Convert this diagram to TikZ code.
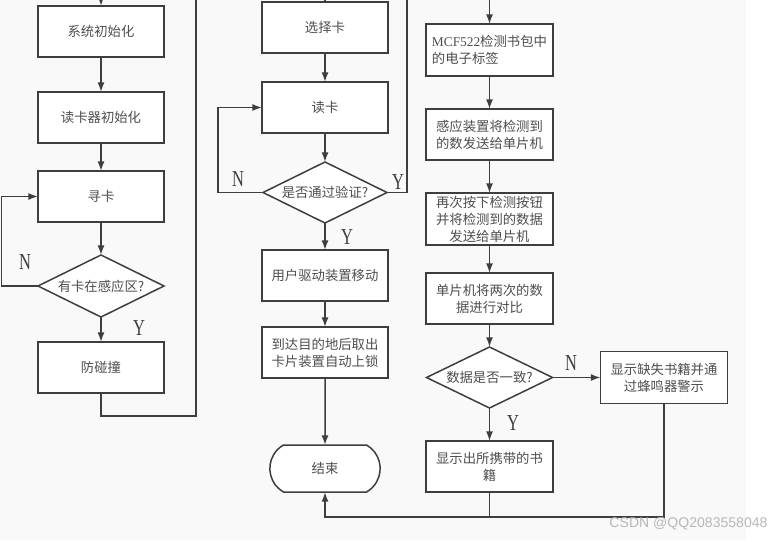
\documentclass[tikz,border=0pt]{standalone}
\usepackage{fontspec}
\setmainfont{Liberation Serif}
\setsansfont{Liberation Sans}
\newfontfamily\cjk{Noto Sans CJK SC}
\usetikzlibrary{shapes.geometric, shapes.misc, arrows.meta}
\usetikzlibrary{positioning}
\definecolor{bgcol}{RGB}{249,249,249}
\definecolor{linecol}{RGB}{62,62,62}
\definecolor{txtcol}{RGB}{78,78,78}
\tikzstyle{procbox} = [rectangle, minimum width=2.52cm, minimum height=1.02cm, inner ysep=0pt, outer sep=0pt,
text centered, align=center, draw=linecol, fill=white, text=txtcol, line width=0.85pt,
font=\cjk\fontsize{7.6}{9.7}\selectfont]
\tikzstyle{decision} = [diamond, aspect=2, minimum width=2.52cm, minimum height=1.24cm, inner sep=0pt, outer sep=0pt,
text centered, draw=linecol, fill=white, text=txtcol, line width=0.85pt,
font=\cjk\fontsize{7.6}{9.7}\selectfont]
\tikzstyle{startstop} = [rounded rectangle, rounded rectangle arc length=120, minimum width=2.44cm,
minimum height=0.94cm, outer sep=0pt, text centered, draw=linecol, fill=white, text=txtcol, line width=0.85pt,
font=\cjk\fontsize{7.6}{9.7}\selectfont]
\tikzstyle{yn} = [text=linecol, font=\fontsize{13}{13}\selectfont, xscale=0.72, transform shape]
\tikzstyle{arrow} = [line width=0.85pt, draw=linecol, ->, >={Latex[length=5.5pt,width=4pt]}]
\tikzstyle{line} = [line width=0.85pt, draw=linecol]

\begin{document}
\begin{tikzpicture}
    \useasboundingbox (0,0) rectangle (15.6,-10.8);
    \fill[bgcol] (0,0) rectangle (14.92,-10.8);

    % left column
    \node (sys) [procbox] at (2.02,-0.63) {系统初始化};
    \node (rinit) [procbox, below=0.7cm of sys] {读卡器初始化};
    \node (seek) [procbox, below=0.56cm of rinit] {寻卡};
    \node (dec1) [decision, below=0.66cm of seek] {有卡在感应区?};
    \node (anti) [procbox, below=0.5cm of dec1] {防碰撞};

    % middle column
    \node (sel) [procbox] at (6.5,-0.55) {选择卡};
    \node (read) [procbox, below=0.58cm of sel] {读卡};
    \node (dec2) [decision, below=0.58cm of read, minimum width=2.48cm, minimum height=1.22cm] {是否通过验证?};
    \node (move) [procbox, below=0.54cm of dec2] {用户驱动装置移动};
    \node (lock) [procbox, below=0.52cm of move] {到达目的地后取出\\卡片装置自动上锁};
    \node (stop) [startstop, below=1.34cm of lock] {结束};

    % right column
    \node (tag) [procbox, align=left, minimum width=2.54cm, minimum height=1.04cm] at (9.79,-1.0) {{\rmfamily MCF522}检测书包中\\的电子标签};
    \node (send) [procbox, below=0.66cm of tag, minimum width=2.54cm] {感应装置将检测到\\的数发送给单片机};
    \node (again) [procbox, below=0.66cm of send, minimum width=2.54cm, minimum height=1.04cm] {再次按下检测按钮\\并将检测到的数据\\发送给单片机};
    \node (cmp) [procbox, below=0.56cm of again, minimum width=2.54cm] {单片机将两次的数\\据进行对比};
    \node (dec3) [decision, below=0.46cm of cmp, minimum height=1.22cm] {数据是否一致?};
    \node (show) [procbox, below=0.66cm of dec3, minimum width=2.54cm] {显示出所携带的书\\籍};
    \node (warn) [procbox, right=0.96cm of dec3, minimum width=2.54cm, minimum height=1.04cm] {显示缺失书籍并通\\过蜂鸣器警示};

    % loose ends
    \coordinate (top1) at (2.02,0);
    \coordinate (top2) at (3.92,0);
    \coordinate (top3) at (6.5,0);
    \coordinate (top4) at (8.14,0);
    \coordinate (top5) at (9.79,0);
    \coordinate (bot) at (0,-10.34);

    \draw[arrow] (top1) -- (sys);
    \draw[arrow] (sys) -- (rinit);
    \draw[arrow] (rinit) -- (seek);
    \draw[arrow] (seek) -- (dec1);
    \draw[arrow] (dec1) -- (anti);
    \draw[arrow] (dec1.west) -- ++(-0.73,0) |- (seek.west);
    \draw[line] (anti.south) -- ++(0,-0.46) -| (top2);

    \draw[line] (top3) -- (sel);
    \draw[arrow] (sel) -- (read);
    \draw[arrow] (read) -- (dec2);
    \draw[arrow] (dec2) -- (move);
    \draw[arrow] (move) -- (lock);
    \draw[arrow] (lock) -- (stop);
    \draw[arrow] (dec2.west) -- ++(-0.9,0) |- (read.west);
    \draw[line] (dec2.east) -- ++(0.4,0) |- (top4);

    \draw[arrow] (top5) -- (tag);
    \draw[arrow] (tag) -- (send);
    \draw[arrow] (send) -- (again);
    \draw[arrow] (again) -- (cmp);
    \draw[arrow] (cmp) -- (dec3);
    \draw[arrow] (dec3) -- (show);
    \draw[arrow] (dec3) -- (warn);
    \draw[line] (show.south) -- (show.south |- bot);
    \draw[arrow] (warn.south) |- (bot -| stop.south) -- (stop.south);

    % labels
    \node (n1) [yn] at (0.5,-5.24) {N};
    \node (y1) [yn] at (2.78,-6.56) {Y};
    \node (n2) [yn] at (4.76,-3.58) {N};
    \node (y2) [yn] at (7.96,-3.64) {Y};
    \node (y3) [yn] at (6.94,-4.74) {Y};
    \node (n3) [yn] at (11.42,-7.26) {N};
    \node (y4) [yn] at (10.26,-8.46) {Y};

    \node (mark) [text=black!28, font=\sffamily\fontsize{8}{8}\selectfont] at (13.77,-10.48) {CSDN @QQ2083558048};
\end{tikzpicture}
\end{document}
